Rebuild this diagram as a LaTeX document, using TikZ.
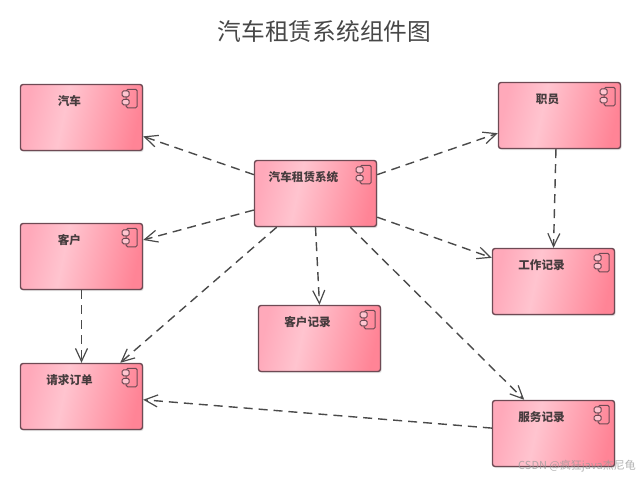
\documentclass[tikz,border=0pt]{standalone}
\usepackage{fontspec}
\newfontfamily\cjk{Noto Sans CJK SC}
\usetikzlibrary{arrows.meta,shadows,positioning}
\definecolor{boxedge}{HTML}{6E4A54}
\definecolor{pinkL}{HTML}{FFA9BA}
\definecolor{pinkM}{HTML}{FFC4CF}
\definecolor{pinkR}{HTML}{FF8496}
\definecolor{linecol}{HTML}{4A4A4A}
\pgfdeclarehorizontalshading{compshade}{100bp}{color(0bp)=(pinkL);color(25bp)=(pinkL);color(42bp)=(pinkM);color(75bp)=(pinkR);color(100bp)=(pinkR)}
\tikzset{
  compbox/.style={draw=boxedge,line width=1.4pt,rounded corners=2.5pt,
    minimum width=122pt,minimum height=66pt,inner sep=0pt,
    shading=compshade,shading angle=-12,
    drop shadow={opacity=.22,shadow xshift=1.2pt,shadow yshift=-1.5pt}},
  complabel/.style={font=\cjk\bfseries\fontsize{11.6}{13}\selectfont,text=black!85,inner sep=0pt,opacity=.85},
  iconpart/.style={draw=boxedge,line width=1pt,rounded corners=1.5pt},
  dep/.style={draw=linecol,line width=1.4pt,dash pattern=on 9pt off 6pt,
    -{Straight Barb[length=13pt,width=12pt,line width=1.2pt]}},
  titletext/.style={font=\cjk\fontsize{23.7}{26}\selectfont,text=black!72,inner sep=0pt},
  marktext/.style={font=\cjk\fontsize{11}{13}\selectfont,text=black!40,opacity=.75,inner sep=0pt}
}
\newcommand{\compnode}[4]{%
  \node[compbox] (#1) at (#2,#3) {};
  \node[complabel] (#1t) at ([shift={(-12pt,16.5pt)}]#1.center) {#4};
  \begin{scope}[shift={(#1.north east)}]
    \draw[iconpart] (-17,5.5) rectangle (-6,24);
    \draw[iconpart,fill=pinkM] (-21,7) rectangle (-14,13);
    \draw[iconpart,fill=pinkM] (-21,15.5) rectangle (-14,21);
  \end{scope}
}
\begin{document}
\begin{tikzpicture}[x=1pt,y=-1pt]
\useasboundingbox (0,0) rectangle (641,477);
\node[titletext] (title) at (324.5,31) {汽车租赁系统组件图};
\compnode{car}{81.5}{117.5}{汽车}
\compnode{staff}{559.5}{115.5}{职员}
\compnode{sys}{315.5}{193.5}{汽车租赁系统}
\compnode{cust}{81.5}{256.5}{客户}
\compnode{work}{553.5}{281.5}{工作记录}
\compnode{crec}{319.5}{338.5}{客户记录}
\compnode{order}{81.5}{396.5}{请求订单}
\compnode{serv}{553.5}{433.5}{服务记录}
\draw[dep] (sys.163) -- (car.-17.6);
\draw[dep] (sys.17) -- (staff.196);
\draw[dep] (staff.-96) -- (work.90);
\draw[dep] (sys.-21.7) -- (work.159);
\draw[dep] (sys.195) -- (cust.15);
\draw[dep] (sys.221) -- (order.41);
\draw[dep] (sys.-90) -- (crec.90);
\draw[dep] (sys.-44) -- (serv.131);
\draw[dep] (cust.south) -- (order.north);
\draw[dep] (serv.175) -- (order.-3);
\node[marktext,anchor=east] (mark) at (636,466) {CSDN @疯狂java杰尼龟};
\end{tikzpicture}
\end{document}
